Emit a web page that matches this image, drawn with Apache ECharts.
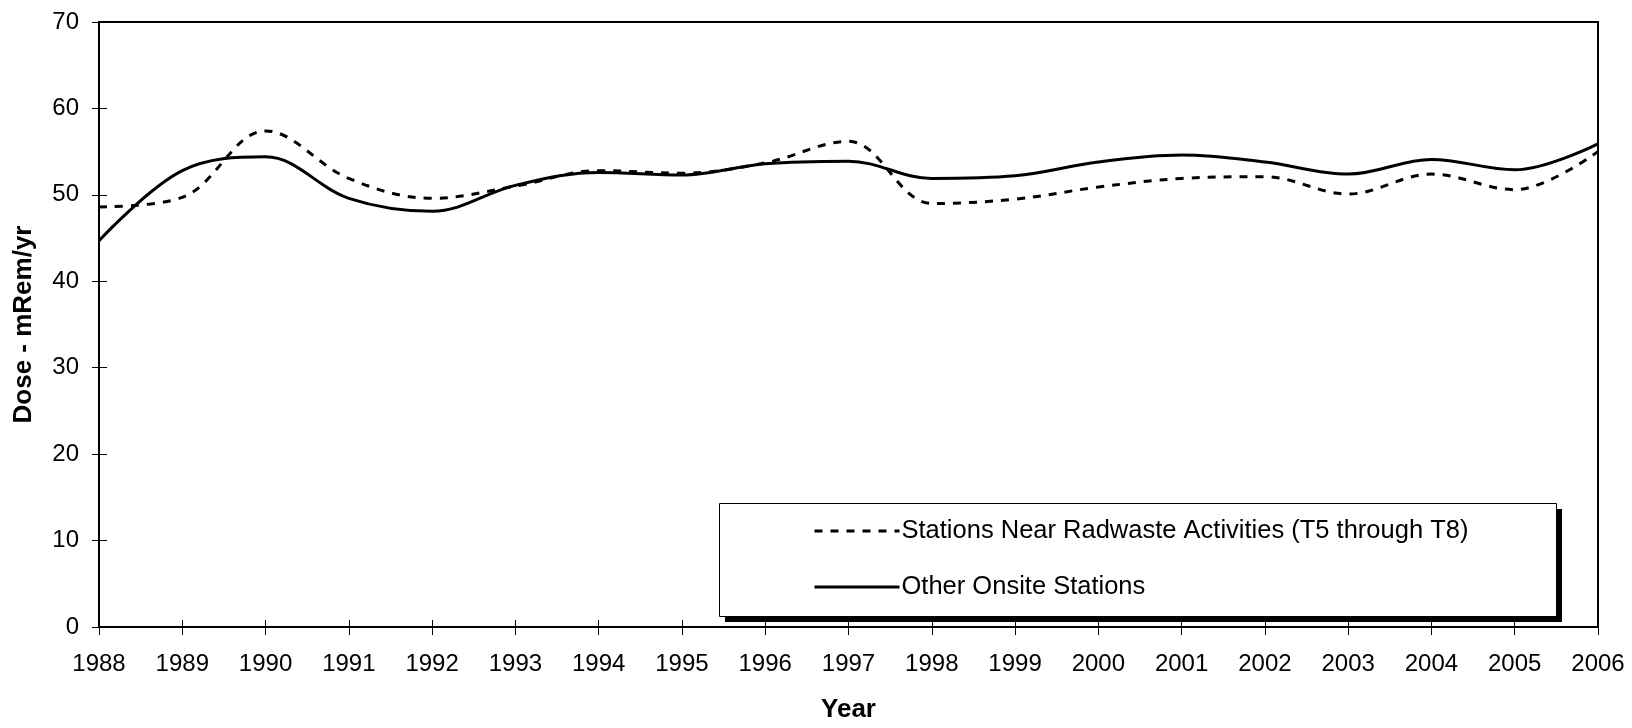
<!DOCTYPE html>
<html>
<head>
<meta charset="utf-8">
<script src="https://cdn.jsdelivr.net/npm/echarts@6/dist/echarts.min.js"></script>
<style>
html,body{margin:0;padding:0;background:#fff;}
#chart{width:1632px;height:728px;}
</style>
</head>
<body>
<div id="chart"></div>
<script>
const years = [1988,1989,1990,1991,1992,1993,1994,1995,1996,1997,1998,1999,2000,2001,2002,2003,2004,2005,2006];
const radwaste = [48.6,49.7,57.4,51.9,49.6,51.0,52.8,52.5,53.7,56.2,49.0,49.5,50.9,51.9,52.1,50.1,52.4,50.6,55.0];
const onsite = [44.7,52.8,54.4,49.6,48.1,51.1,52.6,52.3,53.6,53.9,51.9,52.2,53.8,54.6,53.8,52.4,54.1,52.9,55.9];
const seriesNames = ['Stations Near Radwaste Activities (T5 through T8)', 'Other Onsite Stations'];
const yTicks = {min: 0, max: 70, interval: 10};

const FONT = '"Liberation Sans", Arial, sans-serif';
const chart = echarts.init(document.getElementById('chart'), null, {renderer: 'canvas'});

function pairs(ys) { return years.map((y, i) => [y, ys[i]]); }

const option = {
  animation: false,
  backgroundColor: '#fff',
  textStyle: {fontFamily: FONT, color: '#000'},
  grid: {left: 99, right: 34, top: 22, bottom: 94, show: true, borderColor: '#000', borderWidth: 2, backgroundColor: 'transparent'},
  graphic: [
    {type: 'rect', z: 10, left: 725, top: 509, shape: {width: 837, height: 113}, style: {fill: '#000'}},
    {type: 'rect', z: 11, left: 719, top: 503, shape: {width: 837, height: 113}, style: {fill: '#fff', stroke: '#000', lineWidth: 1}}
  ],
  legend: {
    z: 20,
    orient: 'vertical',
    left: 719, top: 503,
    padding: [15, 80, 15, 94],
    itemGap: 30,
    itemWidth: 85, itemHeight: 14,
    itemStyle: {opacity: 0},
    lineStyle: {width: 3},
    textStyle: {fontFamily: FONT, fontSize: 25.5, color: '#000', padding: [0,0,0,-3]},
    data: seriesNames
  },
  xAxis: [{
    type: 'value', min: years[0], max: years[years.length-1], interval: 1,
    position: 'bottom',
    name: 'Year', nameLocation: 'middle', nameGap: 70,
    nameTextStyle: {fontFamily: FONT, fontSize: 26, fontWeight: 'bold', color: '#000'},
    axisLine: {show: true, lineStyle: {color: '#000', width: 2}},
    axisTick: {show: true, inside: false, length: 8, lineStyle: {color: '#000', width: 1}},
    axisLabel: {fontFamily: FONT, fontSize: 24, color: '#000', margin: 25, formatter: v => String(v)},
    splitLine: {show: false}
  }, {
    type: 'value', min: years[0], max: years[years.length-1], interval: 1,
    position: 'bottom',
    axisLine: {show: false},
    axisTick: {show: true, inside: true, length: 7, lineStyle: {color: '#000', width: 1}},
    axisLabel: {show: false},
    splitLine: {show: false}
  }],
  yAxis: [{
    type: 'value', min: yTicks.min, max: yTicks.max, interval: yTicks.interval,
    position: 'left',
    name: 'Dose - mRem/yr', nameLocation: 'middle', nameGap: 62,
    nameTextStyle: {fontFamily: FONT, fontSize: 26, fontWeight: 'bold', color: '#000'},
    axisLine: {show: true, lineStyle: {color: '#000', width: 2}},
    axisTick: {show: true, inside: false, length: 7, lineStyle: {color: '#000', width: 1}},
    axisLabel: {fontFamily: FONT, fontSize: 24, color: '#000', margin: 20},
    splitLine: {show: false}
  }, {
    type: 'value', min: yTicks.min, max: yTicks.max, interval: yTicks.interval,
    position: 'left',
    axisLine: {show: false},
    axisTick: {show: true, inside: true, length: 8, lineStyle: {color: '#000', width: 1}},
    axisLabel: {show: false},
    splitLine: {show: false}
  }],
  series: [{
    name: seriesNames[0], type: 'line', xAxisIndex: 0, yAxisIndex: 0,
    data: pairs(radwaste), smooth: 0.36, symbol: 'none', showSymbol: false,
    lineStyle: {color: '#000', width: 3, type: [8, 8]},
    itemStyle: {color: '#000'}
  }, {
    name: seriesNames[1], type: 'line', xAxisIndex: 0, yAxisIndex: 0,
    data: pairs(onsite), smooth: 0.36, symbol: 'none', showSymbol: false,
    lineStyle: {color: '#000', width: 3, type: 'solid'},
    itemStyle: {color: '#000'}
  }]
};
chart.setOption(option);
</script>
</body>
</html>
